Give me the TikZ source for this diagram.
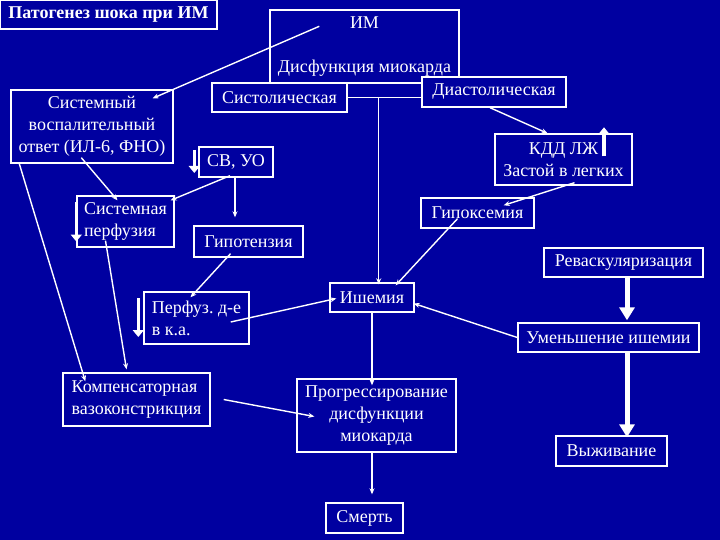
\documentclass[tikz,border=0pt]{standalone}
\usepackage{fontspec}
\setmainfont{Liberation Serif}
\usetikzlibrary{arrows.meta}
\definecolor{slide}{RGB}{0,0,160}

\begin{document}
\begin{tikzpicture}
  [x=1pt, y=-1pt, line width=1.4pt, white,
   every node/.style={text=white, inner sep=0pt, font=\fontsize{18}{22}\selectfont},
   box/.style={draw, fill=slide, align=center},
   arr/.style={-{Stealth[length=6pt,width=5pt]}},
   fat/.style={line width=5pt, -{Triangle[length=13pt,width=15pt]}},
   tick/.style={line width=3.5pt, -{Triangle[length=7pt,width=11pt]}}]
  \useasboundingbox (0,0) rectangle (720,540);
  \fill[slide] (0,0) rectangle (720,540);

  \node[box, minimum width=217pt, minimum height=29pt, font=\bfseries\fontsize{18}{22}\selectfont] (title) at (108.5,14.5) {Патогенез шока при ИМ};
  \node[box, minimum width=189pt, minimum height=73pt] (dys) at (364.5,46.5) {ИМ\\[22pt]Дисфункция миокарда};
  \node[box, minimum width=135pt, minimum height=29pt] (sys) at (279.5,97.5) {Систолическая};
  \node[box, minimum width=144pt, minimum height=30pt] (dia) at (494,92) {Диастолическая};
  \node[box, minimum width=162pt, minimum height=73pt] (sir) at (92,126.5) {Системный\\воспалительный\\ответ (ИЛ-6, ФНО)};
  \node[box, minimum width=74pt, minimum height=30pt] (svuo) at (236,162) {СВ, УО};
  \node[box, minimum width=137pt, minimum height=51pt] (kdd) at (563.5,159.5) {КДД ЛЖ\\Застой в легких};
  \node[box, align=left, minimum width=97pt, minimum height=51pt] (sper) at (125.5,221.5) {Системная\\перфузия};
  \node[box, minimum width=109pt, minimum height=31pt] (hyp) at (248.5,241.5) {Гипотензия};
  \node[box, minimum width=113pt, minimum height=30pt] (hypox) at (477.5,213) {Гипоксемия};
  \node[box, minimum width=159pt, minimum height=29pt] (revasc) at (623.5,262.5) {Реваскуляризация};
  \node[box, minimum width=84pt, minimum height=29pt] (isch) at (372,297.5) {Ишемия};
  \node[box, align=left, minimum width=105pt, minimum height=52pt] (perf) at (196.5,318) {Перфуз.\ д-е\\в к.а.};
  \node[box, minimum width=181pt, minimum height=29pt] (less) at (608.5,337.5) {Уменьшение ишемии};
  \node[box, align=left, minimum width=147pt, minimum height=53pt] (comp) at (136.5,399.5) {Компенсаторная\\вазоконстрикция};
  \node[box, minimum width=159pt, minimum height=73pt] (prog) at (376.5,415.5) {Прогрессирование\\дисфункции\\миокарда};
  \node[box, minimum width=111pt, minimum height=30pt] (surv) at (611.5,451) {Выживание};
  \node[box, minimum width=77pt, minimum height=30pt] (death) at (364.5,518) {Смерть};

  \coordinate (fork) at ([xshift=31pt]sys.east);
  \draw (sys.east) -- (sys.east -| dia.west);
  \draw[arr] (fork) -- ([yshift=-2pt]fork |- isch.north);
  \draw[arr] ([xshift=50pt,yshift=-17pt]dys.north west) -- ([xshift=-21pt,yshift=-9pt]sir.north east);
  \draw[arr] ([xshift=-4pt]dia.south) -- ([xshift=-16pt]kdd.north);
  \draw[arr] ([xshift=71pt,yshift=6pt]sir.south west) -- ([xshift=-8pt,yshift=-5pt]sper.north);
  \draw[arr] ([xshift=9pt]sir.south west) -- ([xshift=23pt,yshift=-9pt]comp.north west);
  \draw[arr] ([xshift=-6pt,yshift=2pt]svuo.south) -- ([xshift=-4pt,yshift=-5pt]sper.north east);
  \draw[arr] ([xshift=-1pt]svuo.south) -- ([xshift=-1pt,yshift=8pt]svuo.south |- hyp.north);
  \draw[arr] ([xshift=-20pt,yshift=7pt]sper.south) -- ([xshift=-10pt,yshift=3pt]comp.north);
  \draw[arr] ([xshift=-18pt,yshift=4pt]hyp.south) -- ([xshift=-6pt,yshift=-6pt]perf.north);
  \draw[arr] ([xshift=-19pt,yshift=-4pt]perf.east) -- ([xshift=7pt,yshift=-1pt]isch.west);
  \draw[arr] ([xshift=11pt,yshift=3pt]kdd.south) -- ([xshift=-31pt,yshift=-8pt]hypox.north east);
  \draw[arr] ([xshift=-20pt,yshift=10pt]hypox.south) -- ([xshift=-19pt,yshift=-3pt]isch.north east);
  \draw[arr] (less.west) -- ([xshift=-1pt,yshift=-6pt]isch.east);
  \draw[arr] (isch.south) -- ([yshift=-7pt]isch.south |- prog.north);
  \draw[arr] (isch.south |- prog.south) -- ([yshift=8pt]isch.south |- death.north);
  \draw[arr] ([xshift=13pt]comp.east) -- ([xshift=18pt,yshift=-1pt]prog.west);
  \draw[fat] ([xshift=3.5pt]revasc.south) -- ([xshift=3.5pt,yshift=2pt]revasc.south |- less.north);
  \draw[fat] ([xshift=18.5pt]less.south) -- ([xshift=15.5pt,yshift=-2pt]surv.north);

  \draw[tick] ([xshift=-4pt,yshift=12pt]svuo.west) -- ([xshift=-4pt,yshift=-11pt]svuo.west);
  \draw[tick] ([yshift=19pt]sper.west) -- ([yshift=-20pt]sper.west);
  \draw[tick] ([xshift=-5pt,yshift=20pt]perf.west) -- ([xshift=-5pt,yshift=-19pt]perf.west);
  \draw[tick] ([xshift=40.5pt,yshift=-23pt]kdd.north) -- ([xshift=40.5pt,yshift=6pt]kdd.north);
\end{tikzpicture}
\end{document}
